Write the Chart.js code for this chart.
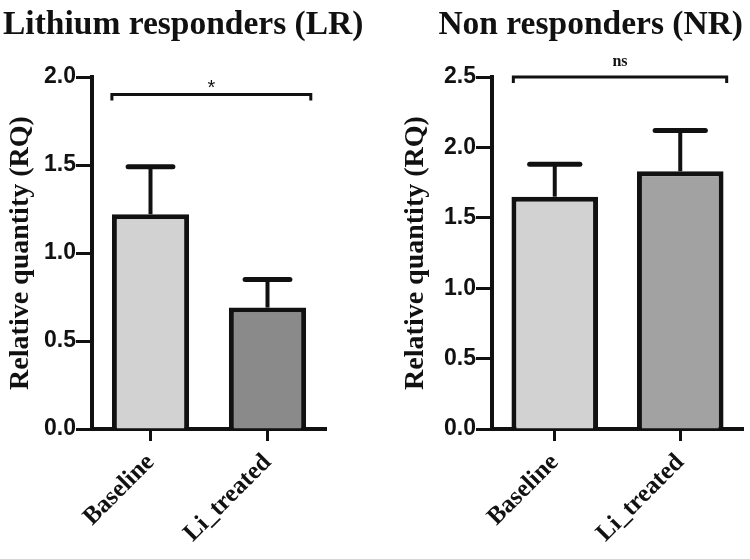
<!DOCTYPE html>
<html>
<head>
<meta charset="utf-8">
<script src="https://cdn.jsdelivr.net/npm/chart.js@4.4.1/dist/chart.umd.min.js"></script>
<style>
  html, body { margin: 0; padding: 0; background: #fff; }
  #wrap { position: relative; width: 750px; height: 559px; }
  canvas { position: absolute; top: 0; }
  #lrChart { left: 0; }
  #nrChart { left: 375px; }
</style>
</head>
<body>
<div id="wrap">
  <canvas id="lrChart" width="375" height="559"></canvas>
  <canvas id="nrChart" width="375" height="559"></canvas>
</div>
<script>
/* ── data ── */
const categories = ['Baseline', 'Li_treated'];

const lrMeans = [1.22, 0.69];
const lrSem = [0.27, 0.16];
const lrTicks = [0, 0.5, 1.0, 1.5, 2.0];
const lrSig = '*';
const lrSigLevel = 1.9;

const nrMeans = [1.65, 1.83];
const nrSem = [0.23, 0.29];
const nrTicks = [0, 0.5, 1.0, 1.5, 2.0, 2.5];
const nrSig = 'ns';
const nrSigLevel = 2.5;

const SERIF = '"Liberation Serif", "Times New Roman", serif';
const SANS = '"Liberation Sans", Arial, sans-serif';
const INK = '#111';

/* error bars (upper only) + significance bracket */
const errorBars = {
  id: 'errorBars',
  afterDatasetsDraw(chart) {
    const ctx = chart.ctx, y = chart.scales.y, x = chart.scales.x;
    const ds = chart.data.datasets[0];
    const meta = chart.getDatasetMeta(0);
    ctx.save();
    ctx.strokeStyle = INK;
    meta.data.forEach(function (bar, i) {
      const top = y.getPixelForValue(ds.data[i] + ds.sem[i]);
      const half = bar.width * 0.29;
      ctx.lineCap = 'butt';
      ctx.lineWidth = 4;
      ctx.beginPath(); ctx.moveTo(bar.x, bar.y); ctx.lineTo(bar.x, top); ctx.stroke();
      ctx.lineWidth = 5;
      ctx.lineCap = 'round';
      ctx.beginPath(); ctx.moveTo(bar.x - half, top); ctx.lineTo(bar.x + half, top); ctx.stroke();
    });

    // bracket
    const cw = x.getPixelForValue(1) - x.getPixelForValue(0);
    const bx0 = x.getPixelForValue(0) - cw * 0.33;
    const bx1 = x.getPixelForValue(1) + cw * 0.37;
    const by = y.getPixelForValue(ds.sigLevel);
    ctx.lineCap = 'butt';
    ctx.lineWidth = 3;
    ctx.beginPath();
    ctx.moveTo(bx0, by + 6); ctx.lineTo(bx0, by); ctx.lineTo(bx1, by); ctx.lineTo(bx1, by + 6);
    ctx.stroke();
    ctx.fillStyle = INK;
    ctx.textAlign = 'center';
    ctx.textBaseline = 'alphabetic';
    ctx.font = ds.sigFont;
    ctx.fillText(ds.sig, (bx0 + bx1) / 2, by - ds.sigGap);
    ctx.restore();
  }
};

function buildChart(id, cfg) {
  return new Chart(document.getElementById(id), {
    type: 'bar',
    data: {
      labels: categories,
      datasets: [{
        data: cfg.means,
        sem: cfg.sem,
        sig: cfg.sig, sigLevel: cfg.sigLevel, sigFont: cfg.sigFont, sigGap: cfg.sigGap,
        backgroundColor: cfg.fills,
        borderColor: INK,
        borderWidth: 5,
        borderSkipped: 'start',
        barPercentage: cfg.barPct,
        categoryPercentage: 1
      }]
    },
    options: {
      responsive: false,
      animation: false,
      layout: { padding: cfg.padding },
      plugins: {
        legend: { display: false },
        tooltip: { enabled: false },
        title: {
          display: true, text: cfg.title, align: cfg.titleAlign, color: INK,
          font: { family: SERIF, size: 33.5, weight: 'bold' },
          padding: { top: 5, bottom: 31.8 }
        }
      },
      scales: {
        x: {
          z: 1,
          offset: true,
          grid: { display: true, offset: false, drawOnChartArea: false, tickLength: 12, tickWidth: 3, tickColor: INK },
          border: { display: true, width: 4, color: INK },
          ticks: { color: INK, font: { family: SERIF, size: 25, weight: 'bold' }, minRotation: 45, maxRotation: 45, padding: 7 },
          afterFit: function (s) { s.height = 130; }
        },
        y: {
          z: 1,
          min: 0,
          max: cfg.ticks[cfg.ticks.length - 1],
          afterBuildTicks: function (s) { s.ticks = cfg.ticks.map(v => ({ value: v })); },
          grid: { drawOnChartArea: false, tickLength: 16, tickWidth: 3, tickColor: INK },
          border: { display: true, width: 4, color: INK },
          ticks: { color: INK, font: { family: SANS, size: 23, weight: 'bold' }, padding: 0, callback: v => Number(v).toFixed(1) },
          title: {
            display: true, text: 'Relative quantity (RQ)', color: INK,
            font: { family: SERIF, size: 28, weight: 'bold' },
            padding: { top: cfg.yTitlePad, bottom: 0 }
          },
          afterFit: function (s) { s.width = cfg.yWidth; }
        },
        // empty right-hand spacer so the title can use the full canvas width
        gap: {
          type: 'linear', position: 'right', display: true,
          grid: { display: false }, border: { display: false }, ticks: { display: false },
          afterFit: function (s) { s.width = cfg.rightGap; }
        }
      }
    },
    plugins: [errorBars]
  });
}

buildChart('lrChart', {
  title: 'Lithium responders (LR)', titleAlign: 'start',
  means: lrMeans, sem: lrSem, ticks: lrTicks,
  sig: lrSig, sigLevel: lrSigLevel, sigFont: '20px ' + SANS, sigGap: 1,
  fills: ['#d2d2d2', '#8a8a8a'], barPct: 0.66,
  padding: { left: 3, right: 0, top: 0, bottom: 0 }, yWidth: 89, yTitlePad: 1, rightGap: 49
});

buildChart('nrChart', {
  title: 'Non responders (NR)', titleAlign: 'end',
  means: nrMeans, sem: nrSem, ticks: nrTicks,
  sig: nrSig, sigLevel: nrSigLevel, sigFont: 'bold 16px ' + SERIF, sigGap: 11,
  fills: ['#d2d2d2', '#a2a2a2'], barPct: 0.69,
  padding: { left: 20, right: 7, top: 0, bottom: 0 }, yWidth: 97, yTitlePad: 4, rightGap: 0
});
</script>
</body>
</html>
